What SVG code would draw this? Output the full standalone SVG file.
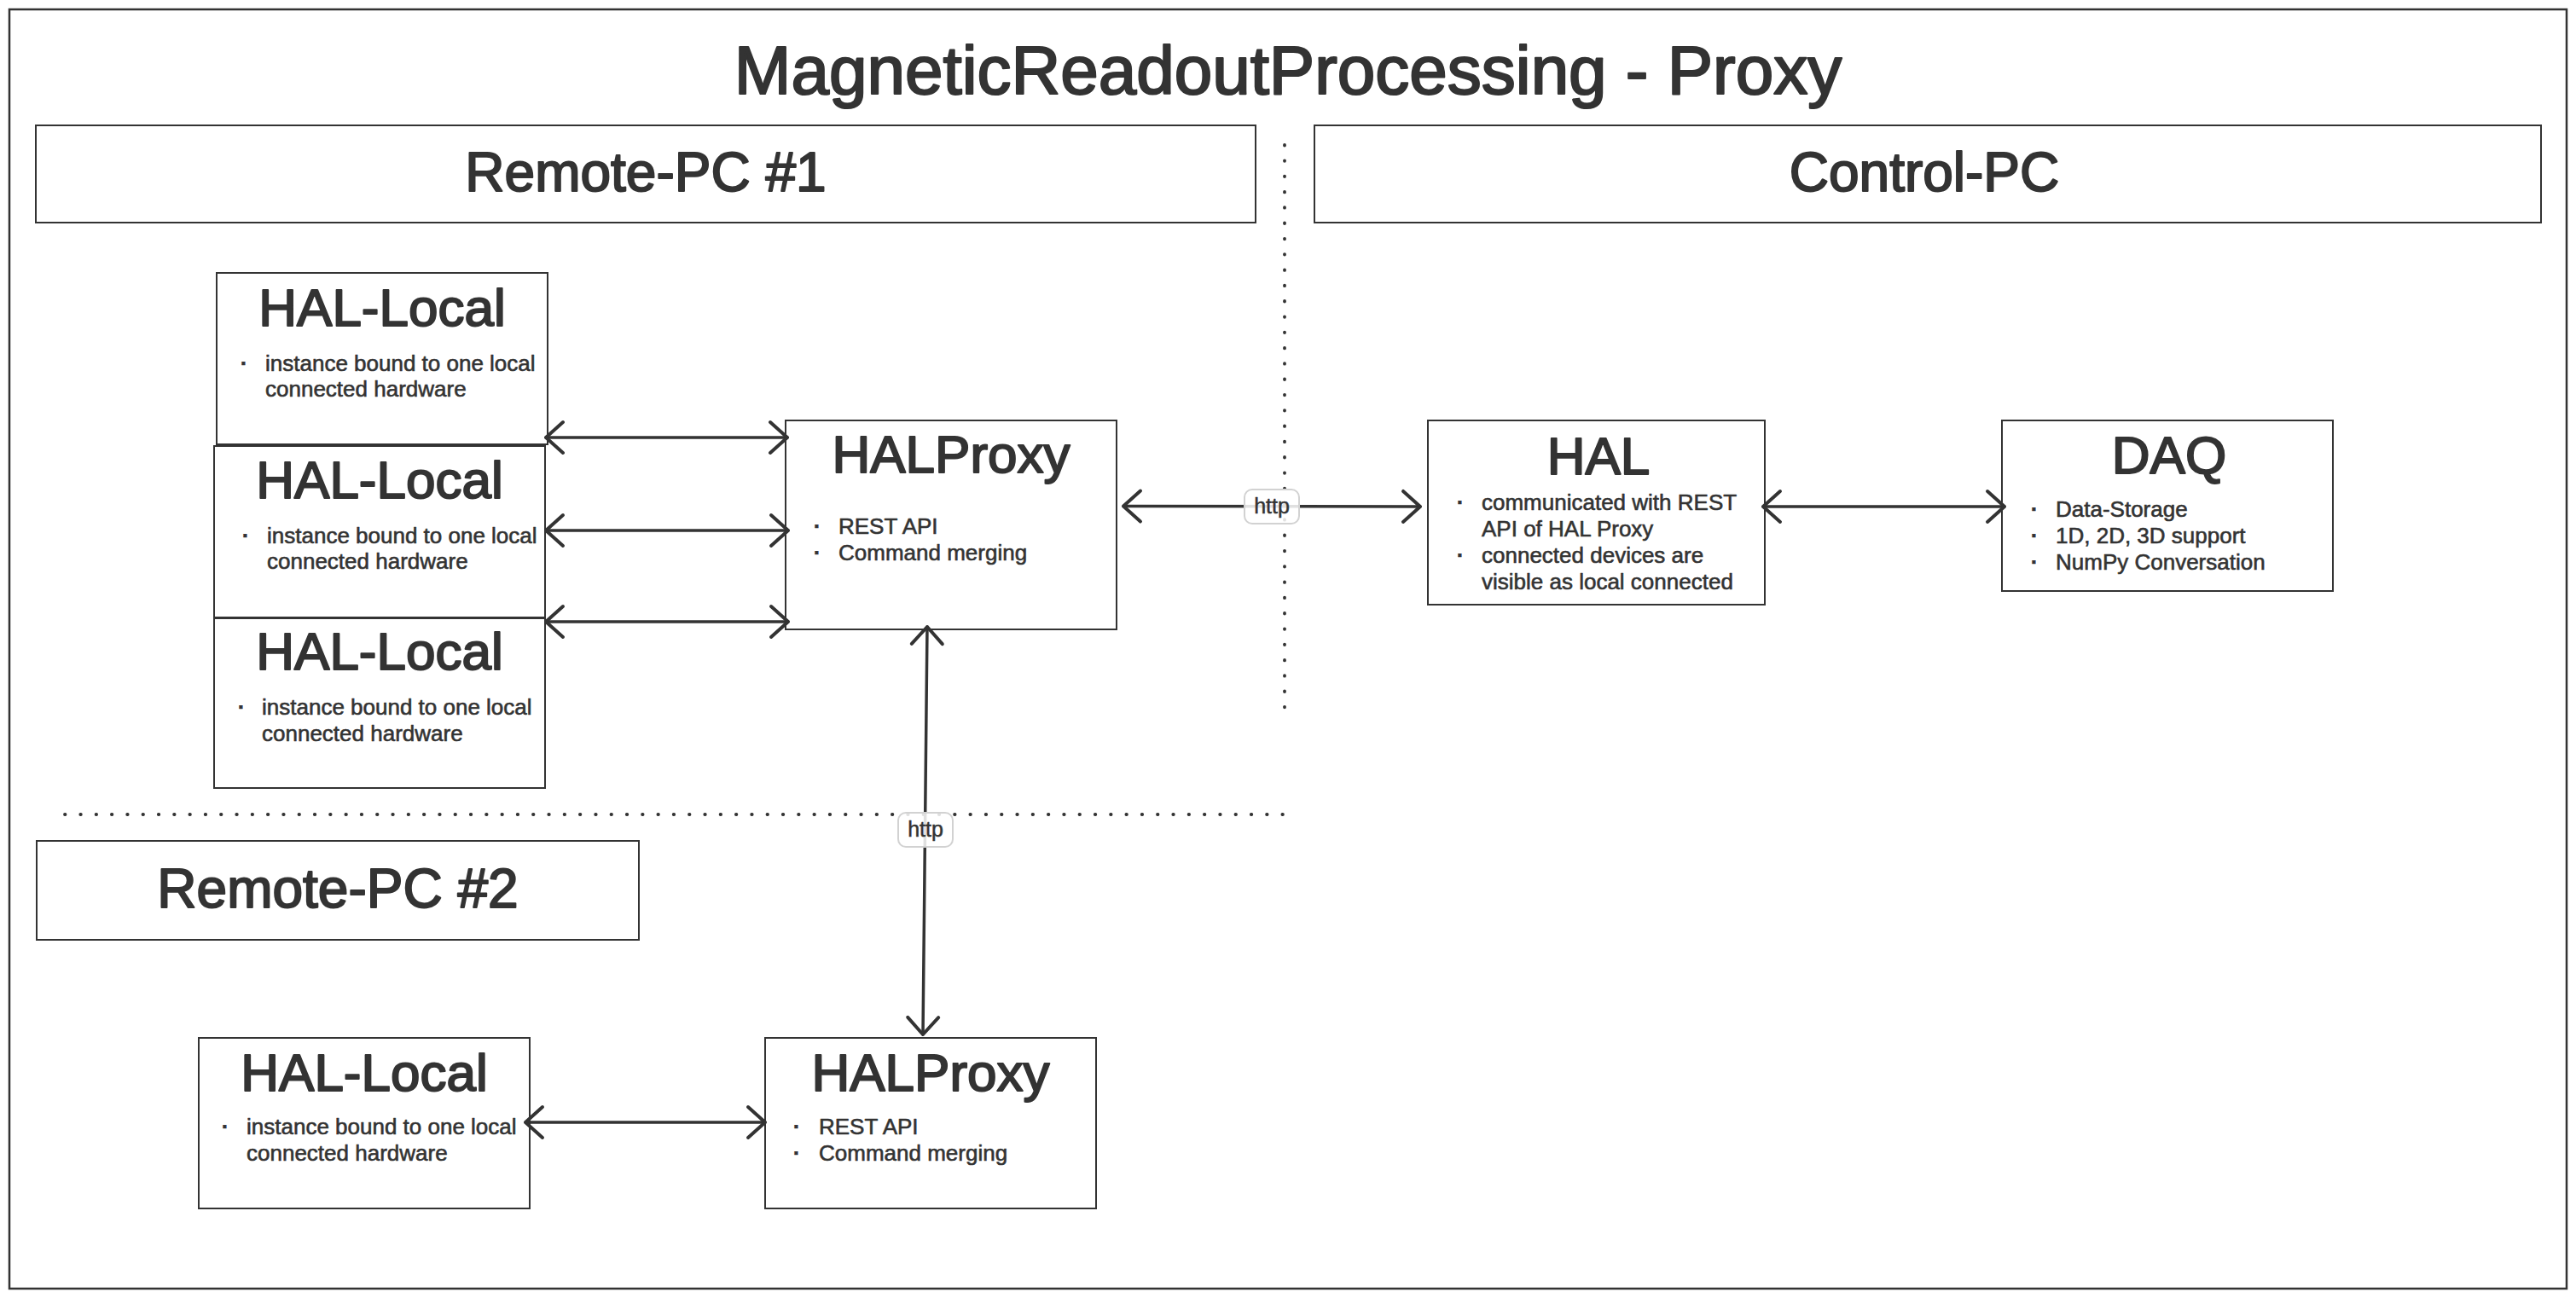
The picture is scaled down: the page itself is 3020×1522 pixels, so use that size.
<svg xmlns="http://www.w3.org/2000/svg" width="3020" height="1522" viewBox="0 0 3020 1522">
  <style>
    .box { fill: #ffffff; stroke: #333333; stroke-width: 2; }
    .frame { fill: #ffffff; stroke: #333333; stroke-width: 2.5; }
    .t { font-family: "Liberation Sans", Arial, sans-serif; fill: #333333; stroke: #333333; stroke-linejoin: round; }
    .big { font-size: 80px; text-anchor: middle; stroke-width: 2.2; }
    .sec { font-size: 64px; text-anchor: middle; stroke-width: 2; }
    .ttl { font-size: 62px; text-anchor: middle; stroke-width: 2; }
    .txt { font-size: 26px; stroke-width: 0.6; }
    .dot { font-size: 26px; text-anchor: middle; font-weight: bold; stroke-width: 0.5; }
    .lbl { font-size: 25px; text-anchor: middle; stroke-width: 0.5; }
    .conn { fill: none; stroke: #333333; stroke-width: 3.5; stroke-linecap: round; }
    .sep { fill: none; stroke: #333333; stroke-width: 3.8; stroke-linecap: round; stroke-dasharray: 0.5 17.8; }
    .lblbox { fill: #ffffff; fill-opacity: 0.85; stroke: #d2d2d2; stroke-width: 2; }
  </style>
  <defs>
    <marker id="chev" markerUnits="userSpaceOnUse" viewBox="-25 -22 30 44" refX="0" refY="0" markerWidth="30" markerHeight="44" orient="auto-start-reverse">
      <path d="M-20,-18 L0,0 L-20,18" fill="none" stroke="#333333" stroke-width="4" stroke-linecap="round" stroke-linejoin="round"/>
    </marker>
  </defs>

  <rect x="0" y="0" width="3020" height="1522" fill="#ffffff"/>
  <rect class="frame" x="11" y="11" width="2998" height="1500"/>

  <text class="t big" x="1510" y="110">MagneticReadoutProcessing - Proxy</text>

  <g id="remote-pc-1">
    <rect class="box" x="42" y="147" width="1430" height="114"/>
    <text class="t sec" x="757" y="224">Remote-PC #1</text>
  </g>
  <g id="control-pc">
    <rect class="box" x="1541" y="147" width="1438" height="114"/>
    <text class="t sec" x="2256" y="224">Control-PC</text>
  </g>
  <g id="remote-pc-2">
    <rect class="box" x="43" y="986" width="706" height="116"/>
    <text class="t sec" x="396" y="1064">Remote-PC #2</text>
  </g>

  <g id="separators">
    <line class="sep" x1="1506" y1="170" x2="1506" y2="830"/>
    <line class="sep" x1="76" y1="955" x2="1510" y2="955"/>
  </g>

  <g id="hal-local-1">
    <rect class="box" x="254" y="320" width="388" height="201"/>
    <text class="t ttl" x="448" y="382">HAL-Local</text>
    <text class="t dot" x="286" y="435">·</text>
    <text class="t txt" x="311" y="435">instance bound to one local</text>
    <text class="t txt" x="311" y="465">connected hardware</text>
  </g>
  <g id="hal-local-2">
    <rect class="box" x="251" y="523" width="388" height="201"/>
    <text class="t ttl" x="445" y="584">HAL-Local</text>
    <text class="t dot" x="288" y="637">·</text>
    <text class="t txt" x="313" y="637">instance bound to one local</text>
    <text class="t txt" x="313" y="667">connected hardware</text>
  </g>
  <g id="hal-local-3">
    <rect class="box" x="251" y="725" width="388" height="199"/>
    <text class="t ttl" x="445" y="785">HAL-Local</text>
    <text class="t dot" x="283" y="838">·</text>
    <text class="t txt" x="307" y="838">instance bound to one local</text>
    <text class="t txt" x="307" y="869">connected hardware</text>
  </g>
  <g id="halproxy-1">
    <rect class="box" x="921" y="493" width="388" height="245"/>
    <text class="t ttl" x="1115" y="554">HALProxy</text>
    <text class="t dot" x="958" y="626">·</text>
    <text class="t txt" x="983" y="626">REST API</text>
    <text class="t dot" x="958" y="657">·</text>
    <text class="t txt" x="983" y="657">Command merging</text>
  </g>
  <g id="hal">
    <rect class="box" x="1674" y="493" width="395" height="216"/>
    <text class="t ttl" x="1874" y="556">HAL</text>
    <text class="t dot" x="1712" y="598">·</text>
    <text class="t txt" x="1737" y="598">communicated with REST</text>
    <text class="t txt" x="1737" y="629">API of HAL Proxy</text>
    <text class="t dot" x="1712" y="660">·</text>
    <text class="t txt" x="1737" y="660">connected devices are</text>
    <text class="t txt" x="1737" y="691">visible as local connected</text>
  </g>
  <g id="daq">
    <rect class="box" x="2347" y="493" width="388" height="200"/>
    <text class="t ttl" x="2543" y="555">DAQ</text>
    <text class="t dot" x="2385" y="606">·</text>
    <text class="t txt" x="2410" y="606">Data-Storage</text>
    <text class="t dot" x="2385" y="637">·</text>
    <text class="t txt" x="2410" y="637">1D, 2D, 3D support</text>
    <text class="t dot" x="2385" y="668">·</text>
    <text class="t txt" x="2410" y="668">NumPy Conversation</text>
  </g>
  <g id="hal-local-4">
    <rect class="box" x="233" y="1217" width="388" height="200"/>
    <text class="t ttl" x="427" y="1279">HAL-Local</text>
    <text class="t dot" x="264" y="1330">·</text>
    <text class="t txt" x="289" y="1330">instance bound to one local</text>
    <text class="t txt" x="289" y="1361">connected hardware</text>
  </g>
  <g id="halproxy-2">
    <rect class="box" x="897" y="1217" width="388" height="200"/>
    <text class="t ttl" x="1091" y="1279">HALProxy</text>
    <text class="t dot" x="934" y="1330">·</text>
    <text class="t txt" x="960" y="1330">REST API</text>
    <text class="t dot" x="934" y="1361">·</text>
    <text class="t txt" x="960" y="1361">Command merging</text>
  </g>

  <g id="connectors">
    <line class="conn" x1="640" y1="513" x2="923" y2="513" marker-start="url(#chev)" marker-end="url(#chev)"/>
    <line class="conn" x1="640" y1="622" x2="924" y2="622" marker-start="url(#chev)" marker-end="url(#chev)"/>
    <line class="conn" x1="640" y1="729" x2="924" y2="729" marker-start="url(#chev)" marker-end="url(#chev)"/>
    <line class="conn" x1="1317" y1="593.5" x2="1665" y2="594" marker-start="url(#chev)" marker-end="url(#chev)"/>
    <line class="conn" x1="2067" y1="594" x2="2350" y2="594" marker-start="url(#chev)" marker-end="url(#chev)"/>
    <line class="conn" x1="1087" y1="735" x2="1082" y2="1213" marker-start="url(#chev)" marker-end="url(#chev)"/>
    <line class="conn" x1="616" y1="1316" x2="897" y2="1316" marker-start="url(#chev)" marker-end="url(#chev)"/>
    <g id="label-http-1">
      <rect class="lblbox" x="1459" y="574" width="64" height="40" rx="9"/>
      <text class="t lbl" x="1491" y="602">http</text>
    </g>
    <g id="label-http-2">
      <rect class="lblbox" x="1053" y="953" width="64" height="40" rx="9"/>
      <text class="t lbl" x="1085" y="981">http</text>
    </g>
  </g>
</svg>
